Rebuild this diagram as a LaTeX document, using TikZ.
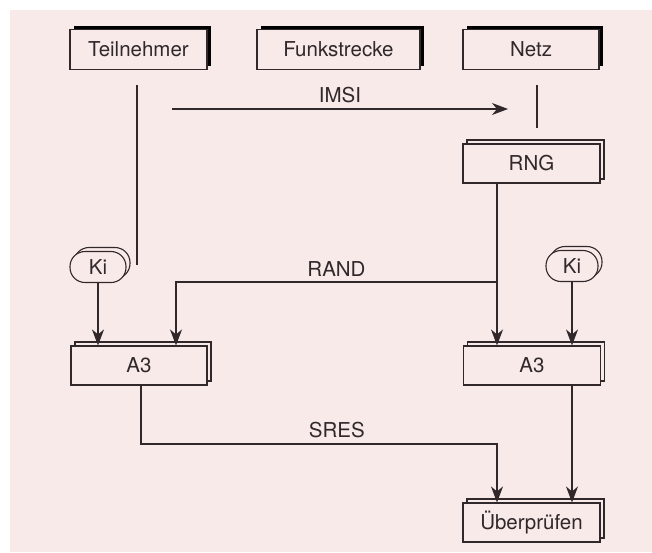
\documentclass[tikz,border=0pt]{standalone}
\usepackage{fontspec}
\setmainfont{TeX Gyre Heros}
\usetikzlibrary{arrows.meta,shadows}

\definecolor{bgpink}{RGB}{248,234,232}
\definecolor{ink}{RGB}{48,40,42}

\tikzset{
	lbl/.style={font=\fontsize{20.5}{24}\selectfont, text=ink},
	headbox/.style={lbl, draw=ink, fill=bgpink, line width=1.1pt, minimum height=40, inner sep=0pt,
		drop shadow={shadow xshift=4pt, shadow yshift=4pt, fill=black, opacity=1}},
	stackbox/.style={lbl, draw=ink, fill=bgpink, line width=1.1pt, minimum height=39, inner sep=0pt,
		copy shadow={shadow xshift=4pt, shadow yshift=4pt, draw=ink, fill=bgpink, line width=1.1pt}},
	keybox/.style={stackbox, minimum height=31, rounded corners=15pt},
	conn/.style={draw=ink, line width=1.1pt},
	arr/.style={conn, -{Stealth[length=16pt,width=12pt,inset=5pt]}},
}

\begin{document}
\begin{tikzpicture}[x=1pt,y=1pt,yscale=-1,xscale=1]
	%Background
	\fill[white] (0,0) rectangle (652,552);
	\fill[bgpink] (10,10) rectangle (652,552);

	%Header boxes
	\node[headbox, minimum width=137] (teil) at (138.5,49.5) {Teilnehmer};
	\node[headbox, minimum width=163] (funk) at (338.5,49.5) {Funkstrecke};
	\node[headbox, minimum width=136] (netz) at (531,49.5) {Netz};

	%Stacked boxes
	\node[stackbox, minimum width=137] (rng) at (531.5,163.5) {RNG};
	\node[stackbox, minimum width=136] (a3L) at (139,365.5) {A3};
	\node[stackbox, minimum width=137] (a3R) at (532,365.5) {A3};
	\node[stackbox, minimum width=137] (uber) at (531.5,522.5) {Überprüfen};

	%Keys
	\node[keybox, minimum width=56] (kiL) at (98,267) {Ki};
	\node[keybox, minimum width=52] (kiR) at (572,266) {Ki};

	%Free ends
	\coordinate (teiltop) at (137,85);
	\coordinate (teilend) at (137,265);
	\coordinate (netztop) at (537,85);
	\coordinate (netzend) at (537,128);
	\coordinate (imsistart) at (172,109);
	\coordinate (imsiend) at (508,109);
	\coordinate (randfork) at (497,282);
	\coordinate (randdrop) at (176,282);
	\coordinate (sresbend) at (141,444);

	%Lifelines
	\draw[conn] (teiltop) -- (teilend);
	\draw[conn] (netztop) -- (netzend);

	%Messages
	\draw[arr] (imsistart) -- node[lbl, above=2pt] {IMSI} (imsiend);
	\draw[arr] (rng.south -| randfork) -- (a3R.north -| randfork);
	\draw[arr] (randfork) -- node[lbl, above=2pt] {RAND} (randdrop) -- (randdrop |- a3L.north);
	\draw[arr] (kiL.south) -- (kiL.south |- a3L.north);
	\draw[arr] (kiR.south) -- (kiR.south |- a3R.north);
	\draw[arr] (sresbend |- a3L.south) -- (sresbend) -- node[lbl, above=2pt, pos=0.55] {SRES} (sresbend -| randfork) -- (randfork |- uber.north);
	\draw[arr] (a3R.south -| kiR) -- (uber.north -| kiR);

\end{tikzpicture}
\end{document}
